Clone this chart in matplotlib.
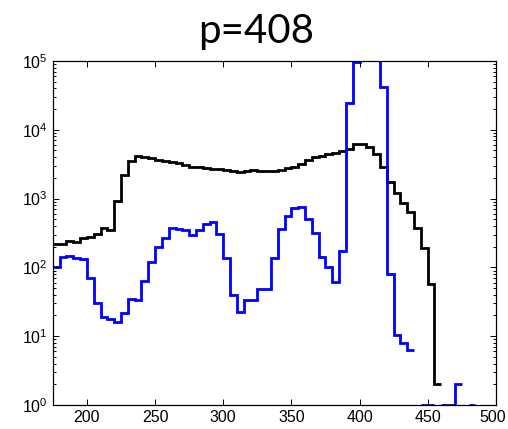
import numpy as np
import matplotlib
matplotlib.use("Agg")
import matplotlib.pyplot as plt
import matplotlib.transforms as mtransforms

plt.rcParams["font.family"] = ["Liberation Sans", "DejaVu Sans"]

# bin edges every 5 units (histogram of the two populations)
black_start = 175
black_vals = [217, 217, 242, 236, 265, 280, 302, 370, 348, 930,
              2200, 3550, 4200, 4080, 3850, 3640, 3520, 3440, 3325, 3080,
              2910, 2850, 2760, 2690, 2670, 2605, 2520, 2400, 2520, 2600,
              2540, 2540, 2540, 2605, 2760, 2910, 3190, 3640, 4060, 4200,
              4410, 4650, 4920, 5260, 6250, 6250, 5650, 4450, 2880, 1730,
              1190, 850, 646, 370, 190, 58, 2]

blue_start = 175
blue_vals = [100, 140, 147, 138, 132, 71, 30, 18.8, 17.8, 16.3,
             21.5, 35, 33, 63, 119, 200, 265, 370, 360, 348,
             298, 345, 427, 455, 308, 135, 40, 22.5, 34, 34,
             48, 48, 135, 356, 558, 720, 763, 498, 319, 143,
             102, 62, 173, 24300, 98000, 2e5, 1.5e5, 2e5, 41500, 80,
             10.4, 8, 6.2, np.nan, 1, 1, np.nan, 1, 1, 2,
             np.nan, 1]

BIN = 5
black_edges = black_start + BIN * np.arange(len(black_vals) + 1)
blue_edges = blue_start + BIN * np.arange(len(blue_vals) + 1)

fig = plt.figure(figsize=(5.08, 4.29), dpi=100)
ax = fig.add_axes([0.104, 0.056, 0.872, 0.802])

ax.stairs(black_vals, black_edges, baseline=None, color="black", lw=2.0)
ax.stairs(blue_vals, blue_edges, baseline=None, color="#0000ff", lw=2.0)

ax.set_yscale("log")
ax.set_xlim(175, 500)
ax.set_ylim(1, 1e5)
ax.set_xticks([200, 250, 300, 350, 400, 450, 500])
ax.set_yticks([1, 10, 100, 1e3, 1e4, 1e5])

ax.tick_params(which="both", direction="in", top=True, right=True,
               labelsize=11.5, width=0.7)
ax.tick_params(which="major", length=4, pad=3.5)
ax.tick_params(which="minor", length=2)
ax.tick_params(axis="x", which="minor", bottom=False, top=False)
for s in ax.spines.values():
    s.set_linewidth(0.9)

# keep the last x label inside the figure
fig.canvas.draw()
last = ax.get_xticklabels()[-1]
last.set_transform(last.get_transform() +
                   mtransforms.ScaledTranslation(-3 / 100, 0, fig.dpi_scale_trans))

fig.text(0.505, 0.9, "p=408", ha="center", va="baseline",
         fontsize=29, family=["Lato", "DejaVu Sans"])

fig.savefig("out.png", dpi=100, facecolor="white")
